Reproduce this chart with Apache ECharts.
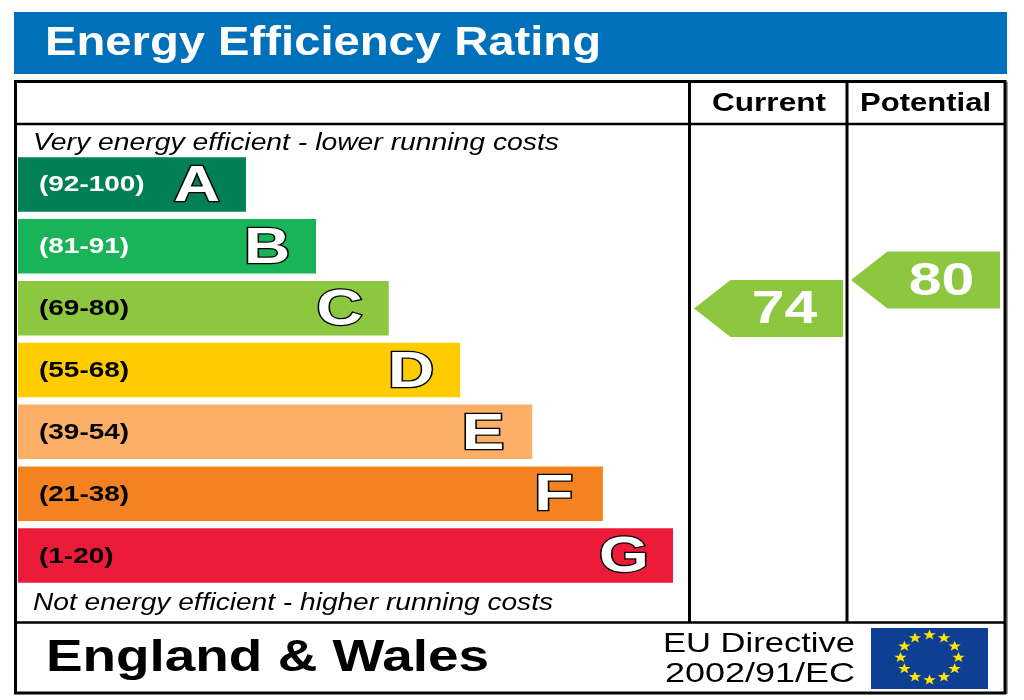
<!DOCTYPE html>
<html><head><meta charset="utf-8">
<style>html,body{margin:0;padding:0;background:#fff}#c{width:1024px;height:700px}</style>
<script src="https://cdn.jsdelivr.net/npm/echarts@6/dist/echarts.min.js"></script>
</head><body><div id="c"></div>
<script>
const bands = ['A','B','C','D','E','F','G'];
const ranges = ['(92-100)','(81-91)','(69-80)','(55-68)','(39-54)','(21-38)','(1-20)'];
const barLengths = [34.8,45.5,56.6,67.5,78.5,89.3,100];
const barColors = ['#008054','#19b459','#8dc63f','#ffcc00','#fbae66','#f58220','#ed1b3a'];
const rangeColors = ['#fff','#fff','#000','#000','#000','#000','#000'];
const columns = ['Current','Potential'];
const scores = [74,80];
const scoreColor = '#8dc63f';

const FONT = '"Liberation Sans",Arial,sans-serif';
const ctx = document.createElement('canvas').getContext('2d');
// Reference text is horizontally stretched: fit each string to its measured width.
function fit(text, font, width){ ctx.font = font; return width / ctx.measureText(text).width; }
function textEl(text, left, right, cy, size, extra){
  const weight = (extra && extra.weight) || 'normal';
  const italic = extra && extra.italic ? 'italic ' : '';
  const font = italic + weight + ' ' + size + 'px ' + FONT;
  return {type:'text', x:left, y:cy, scaleX:fit(text,font,right-left), silent:true, z:20,
    style:{text, font, fill:(extra&&extra.fill)||'#000', textAlign:'left', textVerticalAlign:'middle', textBaseline:'middle'}};
}
function lineEl(x1,y1,x2,y2,w){
  return {type:'line', silent:true, z:10, shape:{x1,y1,x2,y2}, style:{stroke:'#000', lineWidth:w}};
}
function starEl(cx,cy,rx,ry){
  const pts=[];
  for(let i=0;i<10;i++){
    const a=-Math.PI/2+i*Math.PI/5, f=i%2?0.42:1;
    pts.push([cx+rx*f*Math.cos(a), cy+ry*f*Math.sin(a)]);
  }
  return {type:'polygon', silent:true, z:21, shape:{points:pts}, style:{fill:'#ffe600'}};
}
const stars=[];
for(let i=0;i<12;i++){
  const a=i*Math.PI/6;
  stars.push(starEl(929.5+29*Math.sin(a), 657.5-22.5*Math.cos(a), 6.5, 5.5));
}

const graphic = [
  {type:'rect', silent:true, shape:{x:14,y:12,width:993,height:62}, style:{fill:'#0070bb'}},
  textEl('Energy Efficiency Rating',45,601,44,41,{weight:'bold',fill:'#fff'}),
  {type:'rect', silent:true, z:9, shape:{x:1006,y:82,width:2,height:612}, style:{fill:'#9a9a9a'}},
  {type:'rect', silent:true, z:10, shape:{x:15.5,y:81.5,width:989.5,height:611.5}, style:{fill:'none',stroke:'#000',lineWidth:3}},
  lineEl(15,124,1005,124,2.5),
  lineEl(15,622.5,1005,622.5,2.5),
  lineEl(689.5,81,689.5,622,3),
  lineEl(847,81,847,622,3),
  textEl('Current',712,826,104,26,{weight:'bold'}),
  textEl('Potential',860,991,104,26,{weight:'bold'}),
  textEl('Very energy efficient - lower running costs',33,559,143,24,{italic:true}),
  textEl('Not energy efficient - higher running costs',33,553,603,24,{italic:true}),
  textEl('England & Wales',46,489,659,44,{weight:'bold'}),
  textEl('EU Directive',663,855,644,28),
  textEl('2002/91/EC',665,855,674,28),
  {type:'rect', silent:true, z:20, shape:{x:871,y:628,width:117,height:61}, style:{fill:'#0f3f94'}}
].concat(stars);

const option = {
  animation:false,
  backgroundColor:'#fff',
  graphic,
  grid:[
    {left:18, top:153.5, width:655, height:433},
    {left:690, top:185, width:314, height:475}
  ],
  xAxis:[
    {gridIndex:0, type:'value', min:0, max:100, show:false},
    {gridIndex:1, type:'category', data:columns, show:false}
  ],
  yAxis:[
    {gridIndex:0, type:'category', data:bands, inverse:true, show:false},
    {gridIndex:1, type:'value', min:0, max:100, show:false}
  ],
  series:[
    {type:'bar', xAxisIndex:0, yAxisIndex:0, barWidth:54.5,
     data:barLengths.map((v,i)=>({value:v,itemStyle:{color:barColors[i]}}))},
    {type:'custom', xAxisIndex:0, yAxisIndex:0, clip:false, z:5,
     data:barLengths.map((v,i)=>[v,i]),
     renderItem(params,api){
       const i=params.dataIndex;
       const cat=api.coord([0,api.value(1)]);
       const end=api.coord([api.value(0),api.value(1)]);
       const rFont='bold 22px '+FONT, lFont='bold 50px '+FONT;
       return {type:'group',children:[
         {type:'text',x:cat[0]+21,y:cat[1]+1,scaleX:1.27,
          style:{text:ranges[i],font:rFont,fill:rangeColors[i],textAlign:'left',textVerticalAlign:'middle'}},
         {type:'text',x:end[0]-49,y:end[1]+3,scaleX:1.28,
          style:{text:bands[i],font:lFont,fill:'#fff',stroke:'#000',lineWidth:2.5,textAlign:'center',textVerticalAlign:'middle'}}
       ]};
     }},
    {type:'custom', xAxisIndex:1, yAxisIndex:1, clip:false, z:5,
     data:scores.map((v,i)=>[i,v]),
     renderItem(params,api){
       const c=api.coord([api.value(0),api.value(1)]);
       const x=c[0], y=c[1];
       return {type:'group',children:[
         {type:'polygon',shape:{points:[[x-74.5,y],[x-38,y-28.5],[x+74.5,y-28.5],[x+74.5,y+28.5],[x-38,y+28.5]]},
          style:{fill:scoreColor}},
         {type:'text',x:x+16,y:y+2,scaleX:1.28,
          style:{text:String(api.value(1)),font:'bold 46px '+FONT,fill:'#fff',textAlign:'center',textVerticalAlign:'middle'}}
       ]};
     }}
  ]
};
echarts.init(document.getElementById('c'),null,{renderer:'canvas'}).setOption(option);
</script></body></html>
